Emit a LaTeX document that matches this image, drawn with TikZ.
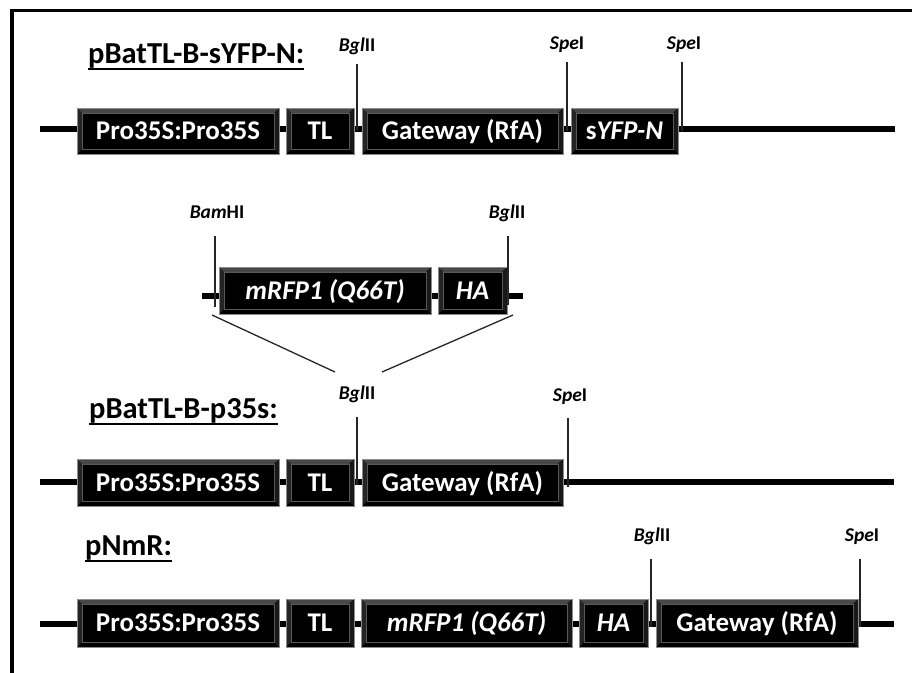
\documentclass[tikz,border=0pt]{standalone}
\usepackage{fontspec}
\setmainfont{Carlito}
\newcommand\myul[1]{\setbox0\hbox{#1}\leavevmode\rlap{\rule[-6.5pt]{\wd0}{1.8pt}}\box0}
\newcommand\bxfont{\fontsize{27}{31}\selectfont\bfseries}
\newcommand\ttlfont{\fontsize{30.5}{34}\selectfont\bfseries}
\newcommand\enzfont{\fontsize{19.5}{22}\selectfont\bfseries}
\tikzset{
  x=1pt, y=-1pt,
  backbone/.style={line width=6pt, black},
  cutline/.style={line width=1.3pt, black!85},
  joinline/.style={line width=1.3pt, black!85},
  ttl/.style={anchor=base west, inner sep=0pt, font=\ttlfont},
  enz/.style={anchor=base, inner sep=0pt, font=\enzfont},
  genebox/.style={fill=black, draw=black!45, line width=0.8pt, text=white,
    font=\bxfont, inner sep=0pt, minimum height=47pt,
    text height=20pt, text depth=3pt,
    path picture={
      \path (path picture bounding box.north west) coordinate (bvA)
            (path picture bounding box.north east) coordinate (bvB)
            (path picture bounding box.south east) coordinate (bvC)
            (path picture bounding box.south west) coordinate (bvD);
      \path ([shift={(5pt,-5pt)}]bvA) coordinate (bva)
            ([shift={(-5pt,-5pt)}]bvB) coordinate (bvb)
            ([shift={(-5pt,5pt)}]bvC) coordinate (bvc)
            ([shift={(5pt,5pt)}]bvD) coordinate (bvd);
      \fill[black!72] (bvA) -- (bvB) -- (bvb) -- (bva) -- cycle;
      \fill[black!86] (bvA) -- (bva) -- (bvd) -- (bvD) -- cycle;
      \fill[black!90] (bvB) -- (bvC) -- (bvc) -- (bvb) -- cycle;
      \draw[black!65, line width=0.4pt] (bva) rectangle (bvc);
    }},
}
\begin{document}
\begin{tikzpicture}
\useasboundingbox (0,0) rectangle (912,672);
\clip (0,0) rectangle (912,672);
% frame (right and bottom edges lie outside the picture)
\draw[line width=3.5pt] (12,10.5) rectangle (930,690);

% ---------------- Row 1: pBatTL-B-sYFP-N ----------------
\node[ttl] (t1) at (88,63) {\myul{pBatTL-B-sYFP-N:}};
\coordinate (b1l) at (40,129);
\coordinate (b1r) at (895,129);
\draw[backbone] (b1l) -- (b1r);
\node[genebox, minimum width=202pt, minimum height=46pt] (r1pro) at (178,131) {Pro35S:Pro35S};
\node[genebox, minimum width=68pt, minimum height=46pt] (r1tl) at (320,131) {TL};
\node[genebox, minimum width=201pt, minimum height=46pt] (r1gw) at (462.5,131) {Gateway (RfA)};
\node[genebox, minimum width=107pt, minimum height=46pt] (r1yfp) at (624.5,131) {s\textit{YFP-N}};
\node[enz] (e1a) at (357,51) {\textit{Bgl}II};
\node[enz] (e1b) at (567,49) {\textit{Spe}I};
\node[enz] (e1c) at (684,49) {\textit{Spe}I};
\coordinate (c1at) at (357,64);  \coordinate (c1ab) at (357,131);
\coordinate (c1bt) at (567,62);  \coordinate (c1bb) at (567,131);
\coordinate (c1ct) at (682,62);  \coordinate (c1cb) at (682,131);
\draw[cutline] (c1at) -- (c1ab);
\draw[cutline] (c1bt) -- (c1bb);
\draw[cutline] (c1ct) -- (c1cb);

% ---------------- Row 2: insert ----------------
\coordinate (b2l) at (202,296);
\coordinate (b2r) at (523,296);
\draw[backbone] (b2l) -- (b2r);
\node[genebox, minimum width=212pt] (r2rfp) at (325,290.5) {\textit{mRFP1 (Q66T)}};
\node[genebox, minimum width=69pt] (r2ha) at (472.5,290.5) {\textit{HA}};
\node[enz] (e2a) at (217,218) {\textit{Bam}HI};
\node[enz] (e2b) at (507,218) {\textit{Bgl}II};
\coordinate (c2at) at (215,236);  \coordinate (c2ab) at (215,307);
\coordinate (c2bt) at (508,236);  \coordinate (c2bb) at (508,305);
\draw[cutline] (c2at) -- (c2ab);
\draw[cutline] (c2bt) -- (c2bb);
\coordinate (j1a) at (212,315); \coordinate (j1b) at (335,372);
\coordinate (j2a) at (513,315); \coordinate (j2b) at (382,372);
\draw[joinline] (j1a) -- (j1b);
\draw[joinline] (j2a) -- (j2b);

% ---------------- Row 3: pBatTL-B-p35s ----------------
\node[ttl] (t3) at (89,418) {\myul{pBatTL-B-p35s:}};
\coordinate (b3l) at (40,482);
\coordinate (b3r) at (894,482);
\draw[backbone] (b3l) -- (b3r);
\node[genebox, minimum width=202pt] (r3pro) at (178,482.5) {Pro35S:Pro35S};
\node[genebox, minimum width=68pt] (r3tl) at (320,482.5) {TL};
\node[genebox, minimum width=201pt] (r3gw) at (462.5,482.5) {Gateway (RfA)};
\node[enz] (e3a) at (357,399) {\textit{Bgl}II};
\node[enz] (e3b) at (570,401) {\textit{Spe}I};
\coordinate (c3at) at (357,417);  \coordinate (c3ab) at (357,485);
\coordinate (c3bt) at (568,418);  \coordinate (c3bb) at (568,487);
\draw[cutline] (c3at) -- (c3ab);
\draw[cutline] (c3bt) -- (c3bb);

% ---------------- Row 4: pNmR ----------------
\node[ttl] (t4) at (85,555) {\myul{pNmR:}};
\coordinate (b4l) at (40,624);
\coordinate (b4r) at (894,624);
\draw[backbone] (b4l) -- (b4r);
\node[genebox, minimum width=202pt, minimum height=48pt] (r4pro) at (178,623) {Pro35S:Pro35S};
\node[genebox, minimum width=68pt, minimum height=48pt] (r4tl) at (320,623) {TL};
\node[genebox, minimum width=211pt, minimum height=48pt] (r4rfp) at (466.5,623) {\textit{mRFP1 (Q66T)}};
\node[genebox, minimum width=69pt, minimum height=48pt] (r4ha) at (613.5,623) {\textit{HA}};
\node[genebox, minimum width=202pt, minimum height=48pt] (r4gw) at (757,623) {Gateway (RfA)};
\node[enz] (e4a) at (652,541) {\textit{Bgl}II};
\node[enz] (e4b) at (862,541) {\textit{Spe}I};
\coordinate (c4at) at (651,559);  \coordinate (c4ab) at (651,627);
\coordinate (c4bt) at (860,559);  \coordinate (c4bb) at (860,627);
\draw[cutline] (c4at) -- (c4ab);
\draw[cutline] (c4bt) -- (c4bb);
\end{tikzpicture}
\end{document}
